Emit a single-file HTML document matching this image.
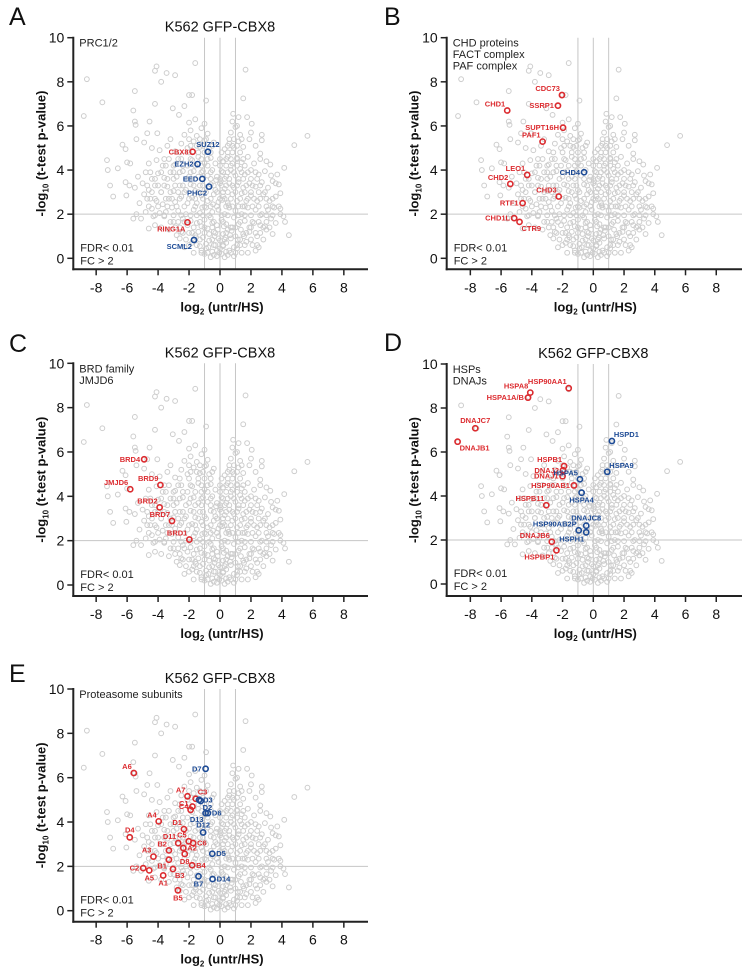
<!DOCTYPE html>
<html><head><meta charset="utf-8"><style>
html,body{margin:0;padding:0;background:#fff;}
svg{display:block;font-family:"Liberation Sans",Arial,sans-serif;}
</style></head><body>
<svg id="fig" width="753" height="968" viewBox="0 0 753 968" xmlns="http://www.w3.org/2000/svg"></svg>
<script>
// Background proteins (shared by all panels): log2 FC and -log10 p
const bgX = [-8.6,-8.8,-7.6,-5.5,-4.1,-4.2,-3.45,-3.8,-2.9,-1.6,1.65,-1.8,-2.0,-0.9,-2.3,-3.05,-2.65,-4.2,1.5,-5.6,-5.5,-5.45,-4.55,-6.3,-6.1,-7.3,-7.25,-6.6,-7.1,-6.9,-6.1,-5.85,-6.05,-6.0,-5.8,-5.4,-4.9,-4.7,-4.05,0.85,1.2,1.75,2.05,5.65,4.8,2.6,2.7,2.7,3.25,4.15,3.7,3.6,3.9,4.2,4.45,3.9,2.5,
-0.2,0.1,0.3,-0.5,0.6,-0.9,0.9,-1.3,1.3,-1.8,1.7,-2.3,2.1,0.0,-0.3,0.4,-0.7,0.7,-1.1,1.0,-1.6,1.5,-2.0,1.9,-2.6,2.4,2.8,-0.1,0.2,-0.4,0.5,-0.8,0.8,-1.2,1.2,-1.5,1.6,-1.9,2.2,-2.4,2.6,-2.9,3.0,-3.3,3.3,-3.8,3.6,-4.2,-4.6,-5.1,-5.6,-5.4,-4.8,-4.4,-3.9,-3.5,-3.1,-2.7,-2.2,-1.7,-1.3,-0.9,-0.5,-0.1,0.3,0.6,1.0,1.4,1.8,2.3,2.7,3.1,3.5,3.9,4.1,-0.2,0.1,-0.6,0.4,-1.0,0.9,
-5.2,-4.9,-4.5,-4.1,-3.7,-3.3,-2.9,-2.5,-2.1,-1.8,-1.5,-1.2,-0.8,-0.4,-0.1,0.2,0.5,0.8,1.1,1.4,1.7,2.0,2.4,2.8,3.2,3.6,-5.5,-5.0,-4.6,-4.2,-3.8,-3.4,-3.0,-2.6,-2.2,-1.9,-1.6,-1.3,-1.0,-0.6,-0.3,0.0,0.3,0.6,0.9,1.2,1.5,1.9,2.3,2.7,3.1,3.4,3.8,
-5.3,-4.8,-4.4,-4.0,-3.6,-3.2,-2.8,-2.4,-2.0,-1.7,-1.4,-1.1,-0.8,-0.5,-0.2,0.1,0.4,0.7,1.0,1.3,1.6,2.0,2.5,2.9,3.3,-4.6,-4.1,-3.7,-3.3,-2.9,-2.5,-2.1,-1.8,-1.4,-1.0,-0.6,-0.3,0.2,0.5,0.8,1.1,1.4,1.8,2.2,2.6,3.0,
-3.9,-3.4,-2.9,-2.5,-2.1,-1.7,-1.3,-1.0,-0.7,-0.4,0.3,0.6,0.9,1.2,1.5,1.9,2.3,-2.3,-1.9,-1.5,-1.2,-0.8,0.7,1.0,1.3,2.0,-2.0,-1.6,-1.0,0.8,1.1,-3.2,-4.4,
-0.4,0.4,-1.0,1.0,-0.15,0.25,-0.7,0.65,-1.4,1.35,-2.1,2.0,
-0.6,-0.2,0.2,0.5,-0.9,0.9,-1.2,1.1,-0.5,0.0,0.35,-0.35,0.75,-0.75,1.15,-1.55,1.55,-2.5,2.3,-3.0,-3.6,-4.3,-2.8,3.4,2.9,-0.45,0.15,0.55,-1.15,1.45,-0.25,0.05];
const bgY = [8.12,6.45,7.07,7.58,8.7,8.5,8.4,8.0,8.3,8.85,8.55,7.4,7.4,7.15,6.9,6.8,6.5,7.0,7.25,6.7,6.2,6.05,6.2,5.15,4.95,4.45,4.0,4.08,3.3,2.8,3.45,3.3,2.85,4.35,4.3,5.4,5.25,5.67,5.67,6.55,6.4,6.4,6.1,5.55,5.13,4.75,5.6,5.35,4.25,4.1,3.8,3.4,2.95,1.65,1.05,2.0,0.5,
0.1,0.2,0.05,0.3,0.35,0.45,0.5,0.55,0.6,0.7,0.75,0.5,0.6,0.45,0.6,0.7,0.8,0.9,0.95,1.0,1.05,1.1,1.15,1.2,0.9,1.0,0.85,0.9,1.1,1.2,1.3,1.35,1.4,1.45,1.55,1.6,1.7,1.7,1.6,1.8,1.5,1.4,1.3,1.3,1.8,1.4,1.6,1.5,1.35,1.8,1.8,2.0,2.1,2.25,2.05,2.1,2.3,2.15,2.0,2.2,2.05,2.3,2.1,2.2,2.0,2.3,2.15,2.0,2.3,2.2,2.0,2.2,2.3,2.25,1.9,1.5,1.75,1.85,1.55,1.75,1.85,
2.5,2.9,2.7,2.6,2.45,2.7,2.55,2.8,2.5,2.75,2.5,2.85,2.6,2.9,2.55,2.8,2.5,2.9,2.6,2.95,2.6,2.85,2.6,2.9,2.6,2.8,3.2,3.4,3.1,3.3,3.0,3.25,3.05,3.3,3.1,3.35,3.05,3.3,3.1,3.35,3.1,3.4,3.15,3.4,3.2,3.45,3.2,3.4,3.25,3.45,3.2,3.5,3.35,
3.7,3.9,3.6,3.85,3.65,3.9,3.7,3.95,3.7,3.95,3.7,3.95,3.75,4.0,3.7,3.95,3.7,4.0,3.75,4.05,3.8,4.0,3.8,3.95,3.75,4.3,4.45,4.2,4.5,4.25,4.5,4.2,4.45,4.6,4.3,4.55,4.3,4.4,4.6,4.3,4.55,4.35,4.6,4.3,4.5,4.4,
4.9,5.1,4.85,5.2,5.0,5.3,5.05,5.35,5.0,5.25,4.95,5.2,5.0,5.3,5.05,5.4,5.1,5.6,5.8,5.55,5.9,5.65,5.7,5.95,5.6,5.7,6.15,6.3,6.1,6.2,6.0,5.4,5.0,
0.15,0.3,0.2,0.25,1.3,1.45,1.1,1.05,1.2,1.3,1.5,1.4,
0.05,0.35,0.55,0.15,0.65,0.1,0.35,0.45,1.6,0.8,0.95,1.0,1.25,0.5,0.85,0.95,1.0,1.2,0.35,1.65,1.9,1.9,1.05,1.1,1.45,2.45,2.65,2.4,2.3,2.35,3.55,3.5];

// Additional dense-core proteins, grouped by -log10 p row
const coreRowY = [0.25,0.6,0.85,1.15,1.4,1.65,1.95,2.35,2.7,3.0,3.3,3.6,3.9,4.2,4.5,4.8,5.1,5.4];
const coreRowX = [
 [-1.7,-1.2,-0.8,-0.05,0.7,1.4,1.8],
 [-2.0,-1.5,-0.4,0.2,1.1,1.6,2.4],
 [-2.2,-1.7,-1.3,-0.5,0.3,1.3,2.0],
 [-2.4,-1.8,-1.0,-0.3,0.4,1.7,2.3,2.6],
 [-2.6,-1.7,-1.0,-0.5,0.7,1.0,1.9,2.8,3.2],
 [-3.2,-2.7,-2.3,-1.3,-0.4,0.2,1.3,2.1,2.5,3.0],
 [-4.2,-3.6,-3.0,-2.5,-1.9,-1.5,-1.1,-0.7,0.1,0.5,1.2,1.6,2.0,2.6,3.0,3.4],
 [-4.6,-4.0,-3.4,-2.8,-2.3,-1.6,-1.0,-0.6,-0.2,0.4,0.8,1.2,1.6,2.1,2.5,3.0,3.4,3.8],
 [-4.7,-4.2,-3.5,-3.1,-2.6,-2.0,-1.6,-1.1,-0.6,0.0,0.3,0.7,1.3,1.8,2.2,2.6,3.0,3.4],
 [-4.4,-3.8,-3.2,-2.7,-2.3,-1.4,-0.9,-0.2,0.2,0.5,1.0,1.6,2.0,2.5,2.9],
 [-4.7,-4.0,-3.6,-2.9,-2.4,-1.7,-1.1,-0.4,0.1,0.4,0.8,1.1,1.7,2.1,2.6],
 [-4.2,-3.4,-3.0,-2.2,-1.6,-1.2,-0.6,0.0,0.3,0.6,1.2,1.5,2.0,2.4],
 [-4.5,-3.8,-3.0,-2.6,-1.9,-1.2,-0.6,0.2,0.5,0.9,1.4,1.8,2.3],
 [-3.5,-3.0,-2.4,-1.6,-1.2,-0.8,0.0,0.4,0.7,1.1,1.6],
 [-3.6,-2.7,-1.9,-1.2,-0.8,0.0,0.4,0.7,1.1,1.5],
 [-2.6,-2.0,-1.4,-1.0,-0.6,0.1,0.5,0.8,1.3],
 [-1.9,-1.5,-1.1,-0.5,0.5,0.8,1.1],
 [-2.0,-1.3,-0.9,0.6,0.9,1.4]
];

// Highlighted proteins per panel
const aNames=["CBX8","RING1A","SUZ12","EZH2","EED","PHC2","SCML2"];
const aX=[-1.77,-2.1,-0.78,-1.45,-1.14,-0.71,-1.68];
const aY=[4.83,1.63,4.83,4.27,3.6,3.25,0.83];
const aCol=["r","r","b","b","b","b","b"];
const aPos=["l","bl","t","l","l","bl","bl"];

const bNames=["CDC73","SSRP1","CHD1","SUPT16H","PAF1","LEO1","CHD2","CHD3","RTF1","CHD1L","CTR9","CHD4"];
const bX=[-2.04,-2.3,-5.6,-1.97,-3.3,-4.3,-5.4,-2.25,-4.6,-5.15,-4.8,-0.6];
const bY=[7.4,6.92,6.7,5.92,5.29,3.78,3.37,2.8,2.5,1.82,1.65,3.9];
const bCol=["r","r","r","r","r","r","r","r","r","r","r","b"];
const bPos=["tl","l","tl","l","tl","tl","tl","tl","l","l","br","l"];

const cNames=["BRD4","BRD9","JMJD6","BRD2","BRD7","BRD1"];
const cX=[-4.9,-3.85,-5.8,-3.9,-3.1,-1.98];
const cY=[5.67,4.51,4.32,3.5,2.89,2.05];
const cCol=["r","r","r","r","r","r"];
const cPos=["l","tl","tl","tl","tl","tl"];

const dNames=["HSP90AA1","HSPA8","HSPA1A/B","DNAJC7","DNAJB1","HSPB1","DNAJ2","DNAJ1","HSP90AB1","HSPB11","DNAJB6","HSPBP1","HSPD1","HSPA9","HSPA5","HSPA4","DNAJC8","HSP90AB2P","HSPH1"];
const dX=[-1.6,-4.1,-4.25,-7.68,-8.83,-1.9,-1.97,-2.0,-1.26,-3.06,-2.7,-2.4,1.21,0.91,-0.87,-0.76,-0.46,-0.95,-0.46];
const dY=[8.9,8.7,8.47,7.08,6.47,5.36,5.17,4.9,4.48,3.58,1.92,1.53,6.5,5.1,4.76,4.15,2.65,2.44,2.35];
const dCol=["r","r","r","r","r","r","r","r","r","r","r","r","b","b","b","b","b","b","b"];
const dPos=["tl","tl","l","tc","br","tl","l","l","l","tl","tl","bl","tr","tr","tl","b","tc","tl","bl"];

const eNames=["A6","A7","C3","C4","C1","A4","D1","D4","D11","C5","C6","B2","A2","A3","D8","B1","B4","C2","A5","B3","A1","B5","D7","D3","D2","D6","D13","D12","D5","B7","D14"];
const eX=[-5.57,-2.1,-1.57,-1.78,-1.9,-3.96,-2.33,-5.83,-2.7,-2.02,-1.74,-3.3,-2.37,-4.3,-2.28,-3.3,-1.8,-4.96,-4.57,-3.04,-3.67,-2.72,-0.93,-1.35,-1.25,-0.78,-0.93,-1.09,-0.5,-1.39,-0.48];
const eY=[6.21,5.16,5.05,4.7,4.55,4.03,3.68,3.31,3.05,3.13,3.05,2.72,2.83,2.44,2.56,2.3,2.05,1.92,1.82,1.88,1.59,0.92,6.4,5.0,4.95,4.4,4.4,3.53,2.57,1.55,1.43];
const eCol=["r","r","r","r","r","r","r","r","r","r","r","r","r","r","r","r","r","r","r","r","r","r","b","b","b","b","b","b","b","b","b"];
const ePos=["tl","tl","tr","l","tl","tl","tl","tc","tl","tl","r","tl","r","tl","b","bl","r","l","b","br","b","b","l","r","br","r","bl","tc","r","b","r"];

const yTicks=[0,2,4,6,8,10];
const xTicks=[-8,-6,-4,-2,0,2,4,6,8];

const panels=[
 {id:"a",letter:"A",lx:9,ly:25,title:true,group:["PRC1/2"],x0:220,xs:15.48,y0:258.3,ys:22.06,L:73.3,R:368,B:269.3,n:aNames,hx:aX,hy:aY,c:aCol,p:aPos},
 {id:"b",letter:"B",lx:384,ly:25,title:false,group:["CHD proteins","FACT complex","PAF complex"],x0:593.3,xs:15.37,y0:258.3,ys:22.06,L:446.7,R:742,B:269.3,n:bNames,hx:bX,hy:bY,c:bCol,p:bPos},
 {id:"c",letter:"C",lx:9,ly:352,title:true,group:["BRD family","JMJD6"],x0:220,xs:15.48,y0:585,ys:22.17,L:73.3,R:368,B:596,n:cNames,hx:cX,hy:cY,c:cCol,p:cPos},
 {id:"d",letter:"D",lx:384,ly:351,title:true,group:["HSPs","DNAJs"],x0:593.3,xs:15.37,y0:584,ys:22.0,L:446.7,R:742,B:596,n:dNames,hx:dX,hy:dY,c:dCol,p:dPos},
 {id:"e",letter:"E",lx:9,ly:682,title:true,group:["Proteasome subunits"],x0:220,xs:15.48,y0:910.7,ys:22.17,L:73.3,R:368,B:921.7,n:eNames,hx:eX,hy:eY,c:eCol,p:ePos}
];

const NS="http://www.w3.org/2000/svg";
const svg=document.getElementById("fig");
function mk(tag,attrs,parent,text){
  const el=document.createElementNS(NS,tag);
  for(const k in attrs) el.setAttribute(k,attrs[k]);
  if(text!==undefined) el.textContent=text;
  parent.appendChild(el);
  return el;
}
const RED="#dc2b2f", BLUE="#1d4b96", GREY="#cdcdcd";

panels.forEach(P=>{
  const sx=v=>P.x0+v*P.xs;
  const sy=v=>P.y0-v*P.ys;
  const g=mk("g",{},svg);
  
  

  const letter=mk("text",{x:P.lx,y:P.ly,"font-size":25,fill:"#111"},g,P.letter);
  
  

  if(P.title){
    const t=mk("text",{x:sx(0),y:sy(10)-6,"font-size":14.5,"text-anchor":"middle",fill:"#111"},g,"K562 GFP-CBX8");
    
    
  }
  [-1,0,1].forEach(v=>{
    const ln=mk("line",{x1:sx(v),x2:sx(v),y1:sy(10),y2:P.B,stroke:"#c6c6c6","stroke-width":1},g);
    
    
  });
  const hl=mk("line",{x1:P.L,x2:P.R,y1:sy(2),y2:sy(2),stroke:"#c6c6c6","stroke-width":1},g);
  
  

  for(let i=0;i<bgX.length;i++){
    const c=mk("circle",{cx:sx(bgX[i]),cy:sy(bgY[i]),r:2.4,fill:"none",stroke:GREY,"stroke-width":1},g);
    
    
  }
  for(let r=0;r<coreRowY.length;r++){
    for(let j=0;j<coreRowX[r].length;j++){
      const c=mk("circle",{cx:sx(coreRowX[r][j]),cy:sy(coreRowY[r]),r:2.4,fill:"none",stroke:GREY,"stroke-width":1},g);
      
      
    }
  }
  const ya=mk("line",{x1:P.L,x2:P.L,y1:sy(10)-1,y2:P.B+1,stroke:"#222","stroke-width":2},g);
  
  
  const xa=mk("line",{x1:P.L-1,x2:P.R,y1:P.B,y2:P.B,stroke:"#222","stroke-width":2},g);
  
  
  yTicks.forEach(v=>{
    const tk=mk("line",{x1:P.L-6,x2:P.L,y1:sy(v),y2:sy(v),stroke:"#222","stroke-width":1.5},g);
    
    
    const tl=mk("text",{x:P.L-9,y:sy(v)+5,"font-size":14,"text-anchor":"end",fill:"#111"},g,String(v));
    
    
  });
  xTicks.forEach(v=>{
    const tk=mk("line",{x1:sx(v),x2:sx(v),y1:P.B,y2:P.B+6,stroke:"#222","stroke-width":1.5},g);
    
    
    const tl=mk("text",{x:sx(v),y:P.B+23,"font-size":14,"text-anchor":"middle",fill:"#111"},g,String(v));
    
    
  });
  const xt=mk("text",{x:sx(0)+2,y:P.B+42,"font-size":13,"font-weight":"bold","text-anchor":"middle",fill:"#111"},g);
  
  
  xt.innerHTML='log<tspan font-size="8" dy="3">2</tspan><tspan dy="-3"> (untr/HS)</tspan>';
  const cy=(sy(10)+P.B)/2;
  const yt=mk("text",{x:0,y:0,"font-size":13,"font-weight":"bold","text-anchor":"middle",fill:"#111",transform:`translate(${P.L-28},${cy}) rotate(-90)`},g);
  
  
  yt.innerHTML='-log<tspan font-size="8" dy="3">10</tspan><tspan dy="-3"> (t-test p-value)</tspan>';
  P.group.forEach((s,i)=>{
    const t=mk("text",{x:P.L+6,y:sy(10)+9+i*11.5,"font-size":11,fill:"#222"},g,s);
    
    
  });
  const f1=mk("text",{x:P.L+7,y:P.y0-7,"font-size":11,fill:"#222"},g,"FDR< 0.01");
  
  
  const f2=mk("text",{x:P.L+7,y:P.y0+6,"font-size":11,fill:"#222"},g,"FC > 2");
  
  

  for(let i=0;i<P.n.length;i++){
    const col=P.c[i]==="r"?RED:BLUE;
    const px=sx(P.hx[i]), py=sy(P.hy[i]);
    const c=mk("circle",{cx:px,cy:py,r:2.6,fill:"none",stroke:col,"stroke-width":1.6},g);
    
    
    let dx=0,dy=0,anc="middle";
    switch(P.p[i]){
      case "l": dx=-4;dy=2.5;anc="end";break;
      case "r": dx=4;dy=2.5;anc="start";break;
      case "t": dx=0;dy=-5;anc="middle";break;
      case "tl": dx=-2;dy=-4;anc="end";break;
      case "tr": dx=2;dy=-4;anc="start";break;
      case "tc": dx=0;dy=-5;anc="middle";break;
      case "bl": dx=-2;dy=9;anc="end";break;
      case "br": dx=2;dy=9;anc="start";break;
      case "b": dx=0;dy=10;anc="middle";break;
    }
    const t=mk("text",{x:px+dx,y:py+dy,"font-size":7.5,"font-weight":"bold","text-anchor":anc,fill:col},g,P.n[i]);
    
    
  }
});
</script>
</body></html>
